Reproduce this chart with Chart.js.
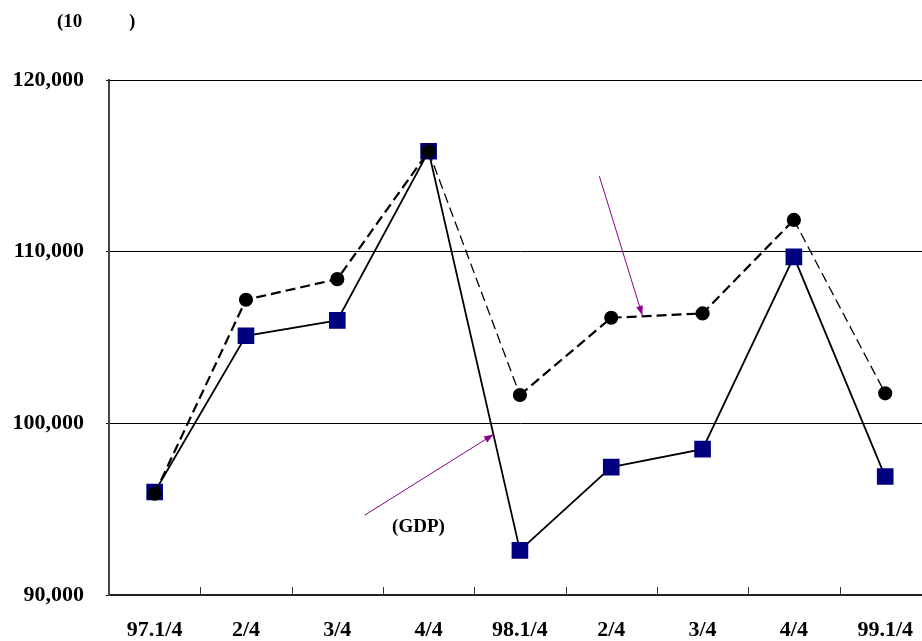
<!DOCTYPE html>
<html>
<head>
<meta charset="utf-8">
<script src="https://cdn.jsdelivr.net/npm/chart.js@4.4.0/dist/chart.umd.min.js"></script>
<style>
  html, body { margin: 0; padding: 0; background: #fff; overflow: hidden; }
  canvas { display: block; }
</style>
</head>
<body>
<canvas id="chart" width="935" height="641"></canvas>
<script>
// 분기 라벨
const quarters = ['97.1/4', '2/4', '3/4', '4/4', '98.1/4', '2/4', '3/4', '4/4', '99.1/4'];
// 실선 (GDP)
const gdpSeries = [96000, 105100, 106000, 115850, 92600, 97450, 98500, 109700, 96900];
// 점선
const dashedSeries = [95900, 107200, 108400, 115850, 101650, 106150, 106400, 111850, 101750];
const yTicks = [90000, 100000, 110000, 120000];
const unitOpen = '(10';
const unitClose = ')';
const gdpText = '(GDP)';

// 화살표 (x: 분기 인덱스, y: 값)
const arrows = [
  { from: [4.87, 114400], to: [5.34, 106300] },
  { from: [2.3, 94650], to: [3.71, 99350] }
];

const serif = "'Liberation Serif', 'Times New Roman', serif";

const extras = {
  id: 'extras',
  afterDatasetsDraw(chart) {
    const { ctx, chartArea: a, scales: { x, y } } = chart;
    ctx.save();
    // 테두리 (위, 오른쪽)
    ctx.strokeStyle = '#000';
    ctx.lineWidth = 1;
    ctx.beginPath();
    ctx.moveTo(a.left, a.top + 0.5);
    ctx.lineTo(a.right, a.top + 0.5);
    ctx.lineTo(a.right - 0.5, a.bottom);
    ctx.stroke();
    // x축 안쪽 눈금
    ctx.strokeStyle = '#333';
    for (let i = 1; i < quarters.length; i++) {
      const px = Math.round(x.getPixelForValue(i - 0.5)) + 0.5;
      ctx.beginPath();
      ctx.moveTo(px, a.bottom);
      ctx.lineTo(px, a.bottom - 8);
      ctx.stroke();
    }
    // 화살표
    ctx.strokeStyle = '#8b008b';
    ctx.fillStyle = '#8b008b';
    ctx.lineWidth = 1;
    arrows.forEach(ar => {
      const x1 = x.getPixelForValue(ar.from[0]), y1 = y.getPixelForValue(ar.from[1]);
      const x2 = x.getPixelForValue(ar.to[0]), y2 = y.getPixelForValue(ar.to[1]);
      ctx.beginPath();
      ctx.moveTo(x1, y1);
      ctx.lineTo(x2, y2);
      ctx.stroke();
      const ang = Math.atan2(y2 - y1, x2 - x1);
      ctx.beginPath();
      ctx.moveTo(x2, y2);
      ctx.lineTo(x2 - 10 * Math.cos(ang - 0.35), y2 - 10 * Math.sin(ang - 0.35));
      ctx.lineTo(x2 - 10 * Math.cos(ang + 0.35), y2 - 10 * Math.sin(ang + 0.35));
      ctx.closePath();
      ctx.fill();
    });
    // 텍스트
    ctx.fillStyle = '#000';
    ctx.font = 'bold 19px ' + serif;
    ctx.textBaseline = 'middle';
    ctx.fillText(unitOpen, 57, 22);
    ctx.fillText(unitClose, 129, 22);
    ctx.fillText(gdpText, x.getPixelForValue(2.6), y.getPixelForValue(93950));
    ctx.restore();
  }
};

new Chart(document.getElementById('chart'), {
  type: 'line',
  data: {
    labels: quarters,
    datasets: [{
      label: 'dashed',
      data: dashedSeries,
      borderColor: '#000',
      borderWidth: 2.2,
      borderDash: [10, 5],
      segment: {
        borderWidth: c => (c.p0DataIndex === 3 || c.p0DataIndex === 7) ? 1.3 : 2.2
      },
      pointStyle: 'circle',
      pointRadius: 6,
      pointBackgroundColor: '#000',
      pointBorderColor: '#000',
      tension: 0
    }, {
      label: 'GDP',
      data: gdpSeries,
      borderColor: '#000',
      borderWidth: 1.8,
      pointStyle: 'rect',
      pointRadius: 10.5,
      pointBackgroundColor: '#000080',
      pointBorderColor: '#000080',
      tension: 0
    }]
  },
  options: {
    responsive: false,
    animation: false,
    layout: { autoPadding: false, padding: { top: 80, right: 0, left: 0, bottom: 0 } },
    plugins: { legend: { display: false }, tooltip: { enabled: false } },
    scales: {
      x: {
        offset: true,
        grid: { display: false, drawTicks: false },
        border: { display: true, color: '#222', width: 2 },
        ticks: {
          color: '#000',
          padding: 22,
          font: { family: serif, size: 22, weight: 'bold' },
          maxRotation: 0,
          autoSkip: false
        },
        afterFit: s => { s.height = 46; }
      },
      y: {
        min: 90000,
        max: 120000,
        afterBuildTicks: s => { s.ticks = yTicks.map(v => ({ value: v })); },
        grid: { color: '#000', lineWidth: 1, tickLength: 3 },
        border: { display: true, color: '#444', width: 2 },
        ticks: {
          color: '#000',
          padding: 22,
          font: { family: serif, size: 22, weight: 'bold' },
          callback: v => v.toLocaleString('en-US')
        },
        afterFit: s => { s.width = 109; }
      }
    }
  },
  plugins: [extras]
});
</script>
</body>
</html>
